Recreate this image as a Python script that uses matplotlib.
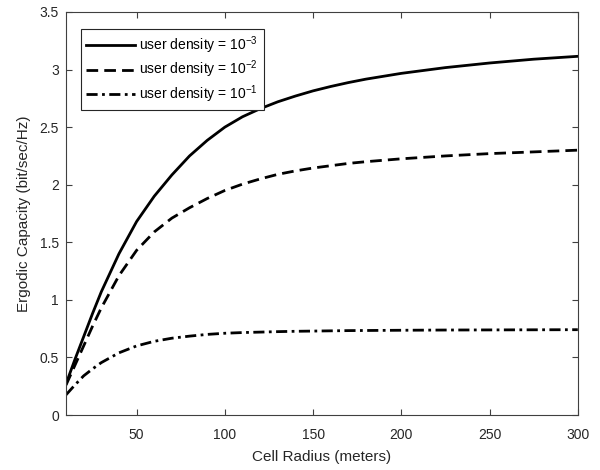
import matplotlib
matplotlib.use("Agg")
import matplotlib.pyplot as plt
from matplotlib.ticker import FuncFormatter

plt.rcParams['font.family'] = ['Liberation Sans', 'DejaVu Sans']
plt.rcParams['mathtext.fontset'] = 'custom'
plt.rcParams['mathtext.rm'] = 'Liberation Sans'
plt.rcParams['mathtext.it'] = 'Liberation Sans:italic'
plt.rcParams['mathtext.bf'] = 'Liberation Sans:bold'

# Data
radius = [10, 15, 20, 25, 30, 40, 50, 60, 70, 80, 90, 100, 110, 120, 130, 140, 150, 160, 170, 180,
          200, 225, 250, 275, 300]
cap_1e3 = [0.27, 0.48, 0.68, 0.88, 1.07, 1.40, 1.68, 1.90, 2.085, 2.25, 2.385, 2.50, 2.59, 2.66, 2.72,
           2.77, 2.815, 2.853, 2.887, 2.917, 2.967, 3.017, 3.057, 3.09, 3.115]
cap_1e2 = [0.26, 0.43, 0.60, 0.77, 0.93, 1.21, 1.43, 1.59, 1.71, 1.80, 1.88, 1.95, 2.005, 2.05, 2.09,
           2.12, 2.145, 2.165, 2.185, 2.20, 2.225, 2.25, 2.27, 2.285, 2.30]
cap_1e1 = [0.175, 0.26, 0.34, 0.40, 0.455, 0.54, 0.60, 0.64, 0.667, 0.685, 0.70, 0.71, 0.716, 0.72,
           0.724, 0.727, 0.729, 0.731, 0.733, 0.734, 0.736, 0.738, 0.739, 0.740, 0.741]
labels = ['user density = 10$^{-3}$', 'user density = 10$^{-2}$', 'user density = 10$^{-1}$']
xticks = [50, 100, 150, 200, 250, 300]
yticks = [0, 0.5, 1, 1.5, 2, 2.5, 3, 3.5]

fig = plt.figure(figsize=(6, 4.7), dpi=100)
ax = fig.add_axes([0.11, 0.117, 0.853, 0.8575])

ax.plot(radius, cap_1e3, color='black', lw=2, linestyle='-', label=labels[0])
ax.plot(radius, cap_1e2, color='black', lw=2, linestyle=(0, (4.2, 2.2)), label=labels[1])
ax.plot(radius, cap_1e1, color='black', lw=2, linestyle=(0, (4.0, 1.6, 1.0, 1.6)), label=labels[2])

ax.set_xlim(10, 300)
ax.set_ylim(0, 3.5)
ax.set_xticks(xticks)
ax.set_yticks(yticks)
ax.yaxis.set_major_formatter(FuncFormatter(lambda v, p: ('%g' % v)))

axis_col = '#262626'
for s in ax.spines.values():
    s.set_color('#404040')
    s.set_linewidth(0.8)
ax.tick_params(direction='in', top=True, right=True, length=4, width=0.8,
               colors='#404040', labelcolor=axis_col, labelsize=10)
ax.tick_params(axis='x', pad=9)
ax.tick_params(axis='y', pad=5)

ax.set_xlabel('Cell Radius (meters)', fontsize=11, color=axis_col, labelpad=6)
ax.set_ylabel('Ergodic Capacity (bit/sec/Hz)', fontsize=11, color=axis_col, labelpad=6)

leg = ax.legend(loc='upper left', bbox_to_anchor=(0.029, 0.958), borderaxespad=0,
                fontsize=10, handlelength=3.5, handletextpad=0.3, labelspacing=0.2,
                fancybox=False, framealpha=1, borderpad=0.4)
leg.get_frame().set_edgecolor('#262626')
leg.get_frame().set_linewidth(0.8)

fig.savefig('out.png', dpi=100)
